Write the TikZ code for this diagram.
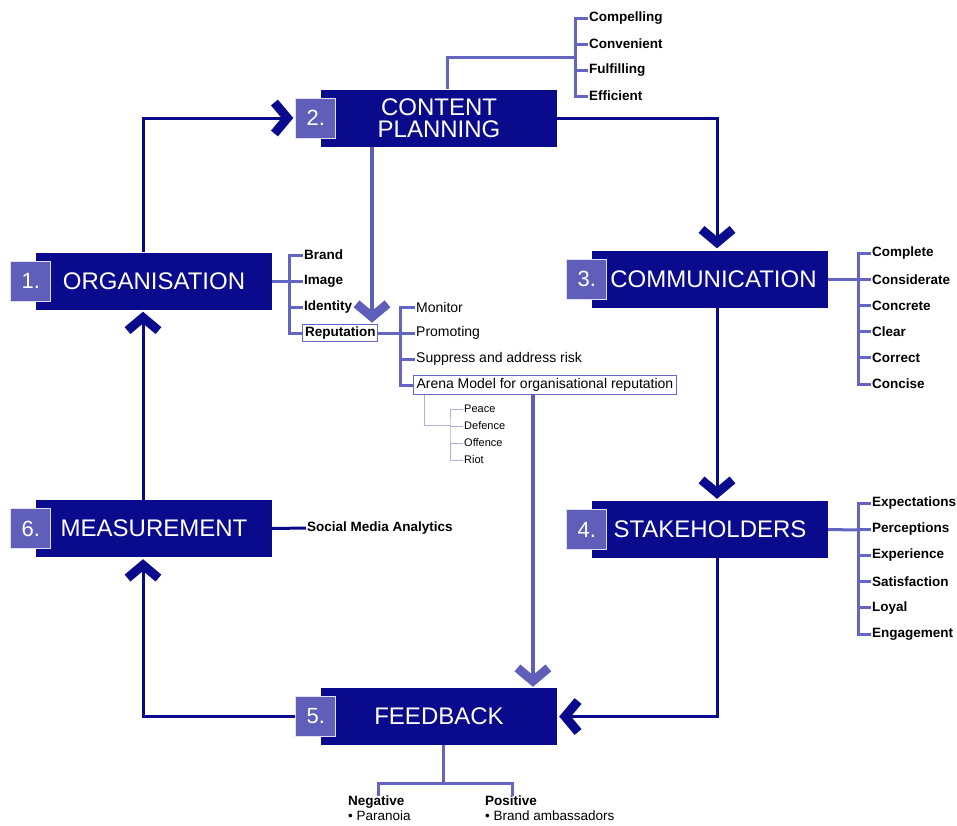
\documentclass[tikz,border=0pt]{standalone}
\usepackage{fontspec}
\setmainfont{Liberation Sans}
\usetikzlibrary{arrows.meta,positioning}
\definecolor{navy}{RGB}{10,10,140}
\definecolor{numblue}{RGB}{95,95,185}
\definecolor{branchblue}{RGB}{100,100,195}
\definecolor{paleblue}{RGB}{175,175,225}

\begin{document}
\begin{tikzpicture}[x=1pt,y=-1pt,
  >={Straight Barb[length=13pt,width=31pt,line width=9pt]},
  box/.style={fill=navy,text=white,minimum width=236pt,minimum height=57pt,
    inner sep=0pt,align=center,font=\fontsize{24}{22}\selectfont},
  numbox/.style={fill=numblue,draw=white!80!numblue,line width=1pt,text=white,
    minimum size=40pt,inner sep=0pt,font=\fontsize{22}{22}\selectfont},
  flow/.style={draw=navy,line width=3pt,->,shorten >=2pt},
  lightflow/.style={draw=numblue,line width=4pt,->,shorten >=1pt},
  branch/.style={draw=branchblue,line width=3pt},
  twig/.style={draw=paleblue,line width=1pt},
  item/.style={anchor=west,inner sep=1pt,font=\fontsize{13.5}{14}\selectfont\bfseries},
  plain/.style={anchor=west,inner sep=1pt,font=\fontsize{14}{14}\selectfont},
  small/.style={anchor=west,inner sep=1pt,font=\fontsize{11}{11}\selectfont},
  fbnote/.style={anchor=north west,inner sep=0pt,align=left,font=\fontsize{13.5}{15}\selectfont}]
  \useasboundingbox (0,0) rectangle (957,825);

  % main boxes
  \node[box] (org) at (154,281) {ORGANISATION};
  \node[box] (cp) at (439,118) {CONTENT\\PLANNING};
  \node[box] (com) at (710,279) {\hspace*{7pt}COMMUNICATION};
  \node[box] (stk) at (710,529.5) {STAKEHOLDERS};
  \node[box] (fb) at (439,716.5) {FEEDBACK};
  \node[box] (mea) at (154,528.5) {MEASUREMENT};

  \node[numbox] (n1) at ([xshift=-5pt]org.west) {1.};
  \node[numbox] (n2) at ([xshift=-5pt]cp.west) {2.};
  \node[numbox] (n3) at ([xshift=-5pt]com.west) {3.};
  \node[numbox] (n4) at ([xshift=-5pt]stk.west) {4.};
  \node[numbox] (n5) at ([xshift=-5pt]fb.west) {5.};
  \node[numbox] (n6) at ([xshift=-5pt]mea.west) {6.};

  % cycle
  \draw[flow] ([xshift=-11pt]org.north) |- (n2.west);
  \draw[flow] (cp.east) -| ([xshift=7pt]com.north);
  \draw[flow] ([xshift=7pt]com.south) -- ([xshift=7pt]stk.north);
  \draw[flow] ([xshift=7pt]stk.south) |- (fb.east);
  \draw[flow] (n5.west) -| ([xshift=-11pt]mea.south);
  \draw[flow] ([xshift=-11pt]mea.north) -- ([xshift=-11pt]org.south);

  % content planning
  \foreach \t [count=\i] in {Compelling,Convenient,Fulfilling,Efficient}
    \node[item] (cp\i) at (588,{18+26*(\i-1)}) {\t};
  \coordinate (cpbar) at (575,57);
  \draw[branch] ([xshift=8pt]cp.north) |- (cpbar);
  \draw[branch] (cp1.west) -| (cpbar) |- (cp4.west);
  \foreach \i in {2,3}
    \draw[branch] (cp\i.west) -- (cp\i.west -| cpbar);

  % organisation
  \foreach \t [count=\i] in {Brand,Image,Identity}
    \node[item] (or\i) at (303,{255+26*(\i-1)}) {\t};
  \node[item,draw=branchblue,line width=1pt,inner sep=2.5pt] (rep) at (302,333) {Reputation};
  \coordinate (orbar) at (289,281);
  \draw[branch] (org.east) -- (orbar);
  \draw[branch] (or1.west) -| (orbar) |- (rep.west);
  \foreach \i in {2,3}
    \draw[branch] (or\i.west) -- (or\i.west -| orbar);
  \draw[lightflow] ([xshift=-67pt]cp.south) -- ([xshift=-67pt]cp.south |- rep.north);

  % reputation
  \foreach \t [count=\i] in {Monitor,Promoting,Suppress and address risk}
    \node[plain] (re\i) at (415,{307+26*(\i-1)}) {\t};
  \node[plain,draw=branchblue,line width=1pt,inner sep=3pt] (arena) at (413,385)
    {Arena Model for organisational reputation};
  \coordinate (rebar) at (400,333);
  \draw[branch] (rep.east) -- (rebar);
  \draw[branch] (re1.west) -| (rebar) |- (arena.west);
  \foreach \i in {2,3}
    \draw[branch] (re\i.west) -- (re\i.west -| rebar);

  % arena model
  \foreach \t [count=\i] in {Peace,Defence,Offence,Riot}
    \node[small] (ar\i) at (463,{409+17*(\i-1)}) {\t};
  \coordinate (arbar) at (450,425);
  \draw[twig] ([xshift=-120pt]arena.south) |- (arbar);
  \draw[twig] (ar1.west) -| (arbar) |- (ar4.west);
  \foreach \i in {2,3}
    \draw[twig] (ar\i.west) -- (ar\i.west -| arbar);
  \draw[lightflow] ([xshift=-12pt]arena.south) -- ([xshift=-12pt]arena.south |- fb.north);

  % communication
  \foreach \t [count=\i] in {Complete,Considerate,Concrete,Clear,Correct,Concise}
    \node[item] (co\i) at (871,{253+26.2*(\i-1)}) {\t};
  \coordinate (cobar) at (858,279);
  \draw[branch] (com.east) -- (cobar);
  \draw[branch] (co1.west) -| (cobar) |- (co6.west);
  \foreach \i in {2,...,5}
    \draw[branch] (co\i.west) -- (co\i.west -| cobar);

  % stakeholders
  \foreach \t [count=\i] in {Expectations,Perceptions,Experience,Satisfaction,Loyal,Engagement}
    \node[item] (st\i) at (871,{503+26.2*(\i-1)}) {\t};
  \coordinate (stbar) at (858,530);
  \draw[branch] (stk.east) -- (stbar);
  \draw[branch] (st1.west) -| (stbar) |- (st6.west);
  \foreach \i in {2,...,5}
    \draw[branch] (st\i.west) -- (st\i.west -| stbar);

  % measurement
  \node[item] (sma) at (306,528) {Social Media Analytics};
  \draw[draw=navy,line width=3pt] (mea.east) -- (sma.west);

  % feedback
  \node[fbnote] (neg) at (348,796) {\textbf{Negative}\\ \textbullet\ Paranoia};
  \node[fbnote] (pos) at (485,796) {\textbf{Positive}\\ \textbullet\ Brand ambassadors};
  \coordinate (negtop) at (378,783);
  \coordinate (postop) at (512,783);
  \draw[branch] ([xshift=4pt]fb.south) -- ([xshift=4pt]fb.south |- negtop);
  \draw[branch] (negtop |- neg.north) -- (negtop) -- (postop) -- (postop |- pos.north);
\end{tikzpicture}
\end{document}
